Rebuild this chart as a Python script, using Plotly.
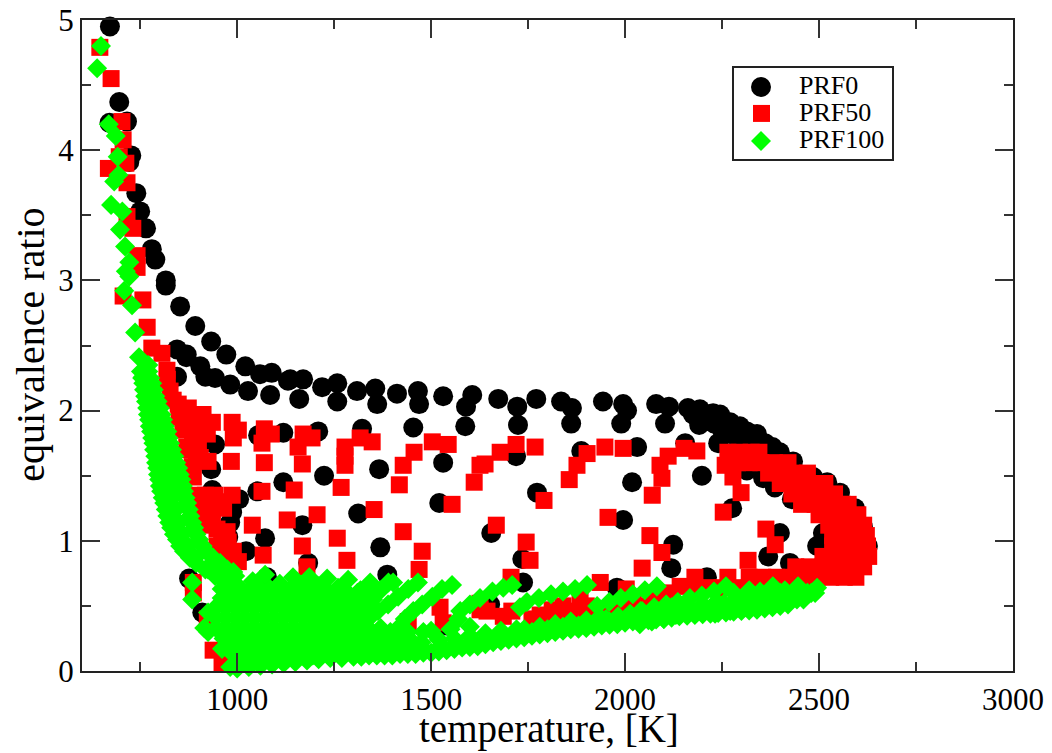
import plotly.graph_objects as go

x_ticks = [1000, 1500, 2000, 2500, 3000]
y_ticks = [0, 1, 2, 3, 4, 5]
legend_names = ["PRF0", "PRF50", "PRF100"]

prf0_points = [
 (672,4.95),(696,4.37),(671,4.21),(716,4.22),(727,3.96),(722,3.91),(740,3.67),(750,3.53),(765,3.40),(780,3.24),
 (789,3.16),(816,3.00),(816,2.96),(853,2.80),(892,2.65),(933,2.53),(972,2.43),(1021,2.34),(1059,2.28),(1089,2.29),
 (1137,2.24),(845,2.47),(870,2.43),(869,2.41),(905,2.34),(845,2.26),(918,2.26),(943,2.25),(982,2.20),(1028,2.15),
 (1085,2.12),(1131,2.23),(1170,2.24),(1160,2.09),(1219,2.18),(1258,2.21),(1258,2.07),(1309,2.15),(1356,2.17),(1361,2.05),
 (1412,2.13),(1466,2.15),(1469,2.05),(1531,2.11),(1606,2.12),(1590,2.03),(1588,1.88),(1454,1.87),(1322,1.86),(1209,1.84),
 (1119,1.83),(1054,1.81),(943,1.74),(1531,1.60),(1366,1.55),(1224,1.50),(1119,1.45),(1052,1.38),(1005,1.32),(1521,1.29),
 (1312,1.21),(1168,1.12),(1072,1.02),(987,1.22),(982,1.14),(977,1.03),(933,1.55),(936,1.39),(1369,0.95),(1023,0.92),
 (1183,0.83),(1000,0.88),(1387,0.74),(876,0.71),(1077,0.72),(910,0.45),(1673,2.09),(1722,2.03),(1771,2.09),(1835,2.07),
 (1863,2.02),(1943,2.07),(1995,2.05),(2005,2.00),(2080,2.05),(2113,2.03),(2162,2.02),(2193,2.01),(2227,1.98),(2245,1.97),
 (2271,1.91),(2296,1.88),(2314,1.84),(2361,1.75),(2399,1.68),(2433,1.61),(2485,1.49),(2521,1.45),(2554,1.37),(2593,1.25),
 (2613,1.11),(2626,0.96),(1724,1.89),(1861,1.90),(1990,1.90),(2103,1.90),(2191,1.89),(2240,1.75),(2210,1.92),(2250,1.85),
 (2290,1.80),(2330,1.72),(2175,1.97),(2215,1.97),(2255,1.92),(2290,1.84),(2325,1.78),(2340,1.82),(2380,1.72),(2230,1.90),
 (2270,1.82),(2300,1.74),(1719,1.65),(1887,1.69),(2031,1.72),(2155,1.75),(1773,1.37),(2018,1.45),(2198,1.50),(2314,1.54),
 (1655,1.06),(1995,1.16),(2276,1.25),(2430,1.32),(1735,0.86),(2124,0.97),(2399,1.06),(2495,0.96),(1737,0.68),(2119,0.79),
 (2369,0.88),(2425,0.83),(2211,0.72),(1979,0.64),(1652,0.51),(2356,1.48),(2386,1.41),(2510,1.06),(1300,0.33),(1540,0.35),
]

prf50_points = [
 (646,4.79),(675,4.55),(703,4.22),(706,4.08),(696,3.95),(713,3.90),(668,3.86),(716,3.75),(716,3.49),(731,3.40),
 (742,3.19),(742,3.10),(706,2.88),(757,2.85),(768,2.64),(780,2.48),(806,2.44),(819,2.31),(820,2.24),(827,2.15),
 (848,2.05),(874,2.02),(912,1.97),(936,1.91),(923,1.82),(987,1.91),(1003,1.85),(990,1.79),(1070,1.86),(1088,1.82),
 (1064,1.75),(1170,1.82),(1193,1.79),(1157,1.72),(1317,1.79),(1348,1.76),(1278,1.72),(1278,1.65),(1278,1.58),(1503,1.76),
 (1544,1.74),(1456,1.68),(1428,1.58),(1418,1.43),(1611,1.45),(1639,1.59),(1168,1.59),(1070,1.60),(985,1.61),(879,1.70),
 (905,1.64),(925,1.61),(884,1.57),(887,1.49),(860,1.85),(885,1.80),(900,1.75),(850,1.95),(835,2.08),(860,1.98),
 (895,1.90),(870,1.90),(910,1.85),(870,1.72),(895,1.68),(1064,1.38),(1147,1.39),(1268,1.41),(1554,1.28),(1353,1.24),
 (897,1.35),(918,1.35),(943,1.35),(987,1.35),(900,1.29),(936,1.24),(936,1.18),(950,1.30),(965,1.25),(915,1.22),(925,1.12),
 (948,1.09),(974,1.07),(948,0.96),(977,0.99),(1003,0.84),(960,0.90),(990,0.92),(960,1.02),(985,0.85),(1039,1.12),
 (1129,1.16),(1206,1.20),(1428,1.07),(1258,1.02),(1168,0.96),(1067,0.89),(1477,0.92),(1283,0.85),(1469,0.78),(1180,0.80),
 (1668,1.12),(1745,0.99),(1755,0.85),(1706,0.72),(1626,1.58),(1678,1.68),(1719,1.74),(1768,1.72),(1856,1.47),(1876,1.58),
 (1902,1.67),(1948,1.72),(1995,1.71),(1791,1.31),(1956,1.18),(2070,1.35),(2095,1.48),(2090,1.58),(2111,1.65),(2152,1.71),
 (2185,1.69),(2064,1.04),(2095,0.91),(2044,0.79),(2180,0.72),(1936,0.68),(2003,0.63),(2258,1.58),(2278,1.49),(2299,1.37),
 (2253,1.22),(2363,1.09),(2387,0.97),(2317,0.85),(2265,0.72),
 (2265,1.68),(2295,1.68),(2325,1.68),(2345,1.68),(2290,1.60),(2320,1.60),(2350,1.60),(2385,1.60),(2420,1.60),
 (2370,1.52),(2400,1.52),(2435,1.52),(2470,1.52),(2400,1.44),(2430,1.44),(2465,1.44),(2500,1.44),(2515,1.44),
 (2430,1.36),(2465,1.36),(2500,1.36),(2540,1.36),(2455,1.28),(2490,1.28),(2525,1.28),(2560,1.28),(2575,1.28),
 (2500,1.20),(2530,1.20),(2565,1.20),(2600,1.20),(2525,1.12),(2560,1.12),(2595,1.12),(2615,1.12),
 (2535,1.04),(2570,1.04),(2600,1.04),(2622,1.04),(2535,0.96),(2570,0.96),(2600,0.96),(2625,0.96),
 (2510,0.88),(2545,0.88),(2580,0.88),(2610,0.88),(2628,0.88),(2440,0.80),(2475,0.80),(2510,0.80),(2545,0.80),(2580,0.80),(2615,0.80),
 (2320,0.72),(2355,0.72),(2390,0.72),(2425,0.72),(2460,0.72),(2495,0.72),(2530,0.72),(2565,0.72),(2595,0.72),
 (2142,0.65),(2108,0.60),(2180,0.64),(2215,0.64),(2250,0.64),(2285,0.64),(2320,0.64),(2355,0.64),
 (2072,0.55),(2021,0.52),(1987,0.47),(1950,0.44),(2050,0.50),(1781,0.43),(1812,0.47),(1840,0.50),(1884,0.55),(1686,0.42),
 (1820,0.43),(1860,0.46),(1900,0.50),(1760,0.40),(1880,0.45),(1920,0.45),
 (1644,0.46),(1626,0.52),(1708,0.46),(887,0.68),(887,0.60),(923,0.40),(938,0.16),(961,0.06),(969,-0.01),(1523,0.49),
 (1626,0.47),(1441,0.38),(1531,0.37),
]

prf100_points = [
 (649,4.80),(639,4.63),(669,4.20),(687,4.11),(692,3.95),(694,3.81),(683,3.76),(675,3.58),(704,3.53),(698,3.39),
 (711,3.26),(722,3.14),(713,3.07),(722,3.03),(709,2.92),(729,2.81),(737,2.60),(747,2.41),(771,2.35),(758,2.26),
 (752,2.30),(758,2.21),(763,2.11),(768,2.02),(773,1.93),(778,1.84),(784,1.75),(789,1.65),(794,1.56),(799,1.47),
 (804,1.38),(812,1.29),(820,1.19),(830,1.10),(845,1.01),(863,0.92),(894,0.83),(943,0.73),
 (771,2.30),(781,2.21),(789,2.11),(801,2.02),(809,1.93),(820,1.84),(827,1.75),(838,1.65),(848,1.56),(856,1.47),
 (863,1.38),(871,1.29),(879,1.19),(889,1.10),(902,1.01),(920,0.92),(956,0.83),(995,0.73),
 (762,2.25),(770,2.16),(776,2.07),(785,1.97),(791,1.88),(799,1.79),(806,1.70),(813,1.60),(821,1.51),(828,1.42),
 (834,1.33),(842,1.24),(850,1.14),(860,1.05),(873,0.96),(892,0.87),(925,0.78),(969,0.68),
 (755,2.25),(760,2.16),(765,2.07),(770,1.97),(775,1.88),(781,1.79),(786,1.70),(791,1.60),(796,1.51),(801,1.42),
 (808,1.33),(816,1.24),(825,1.14),(837,1.05),(853,0.96),(878,0.87),(918,0.78),
 (776,2.25),(785,2.16),(795,2.07),(805,1.97),(814,1.88),(823,1.79),(832,1.70),(843,1.60),(852,1.51),(860,1.42),
 (867,1.33),(875,1.24),(884,1.14),(895,1.05),(911,0.96),(938,0.87),(975,0.78),
 (884,0.55),(884,0.68),(925,0.30),(961,0.17),(982,0.03),(925,0.45),(915,0.33),
 (990,0.76),(1072,0.74),(1144,0.72),(1186,0.72),(1232,0.71),(1286,0.70),(1343,0.68),(1402,0.68),
 (1040,0.69),(1110,0.67),(1165,0.66),(1210,0.65),(1260,0.64),
 (960,0.63),(1010,0.63),(1060,0.63),(1110,0.62),(1160,0.62),(1210,0.61),(1260,0.60),(1310,0.60),
 (985,0.63),(1035,0.63),(1085,0.63),(1135,0.62),(1185,0.62),(1235,0.61),(1285,0.60),
 (985,0.56),(1035,0.56),(1085,0.56),(1135,0.55),(1185,0.55),(1235,0.54),(1285,0.54),
 (960,0.56),(1010,0.56),(1060,0.56),(1110,0.56),(1160,0.55),(1210,0.55),(1260,0.54),(1310,0.54),
 (945,0.49),(995,0.49),(1045,0.49),(1095,0.49),(1145,0.48),(1195,0.48),(1245,0.47),(1295,0.47),
 (970,0.49),(1020,0.49),(1070,0.49),(1120,0.49),(1170,0.48),(1220,0.48),(1270,0.47),
 (970,0.41),(1020,0.41),(1070,0.41),(1120,0.41),(1170,0.41),(1220,0.40),(1270,0.40),
 (945,0.41),(995,0.41),(1045,0.41),(1095,0.41),(1145,0.41),(1195,0.41),(1245,0.40),(1295,0.40),
 (945,0.33),(995,0.33),(1045,0.33),(1095,0.33),(1145,0.33),(1195,0.33),(1245,0.33),(1295,0.32),(1345,0.31),
 (970,0.33),(1020,0.33),(1070,0.33),(1120,0.33),(1170,0.33),(1220,0.33),(1270,0.33),(1320,0.32),
 (965,0.25),(1015,0.25),(1065,0.25),(1115,0.25),(1165,0.25),(1215,0.25),(1265,0.25),(1315,0.25),(1365,0.25),(1415,0.26),
 (990,0.25),(1040,0.25),(1090,0.25),(1140,0.25),(1190,0.25),(1240,0.25),(1290,0.25),(1340,0.25),(1390,0.25),(1440,0.26),
 (975,0.17),(1025,0.17),(1075,0.17),(1125,0.17),(1175,0.17),(1225,0.17),(1275,0.18),(1325,0.18),(1375,0.18),(1425,0.19),(1475,0.22),
 (1000,0.17),(1050,0.17),(1100,0.17),(1150,0.17),(1200,0.17),(1250,0.17),(1300,0.18),(1350,0.18),(1400,0.18),(1450,0.20),
 (1000,0.10),(1045,0.11),(1095,0.11),(1145,0.12),(1195,0.12),(1245,0.13),(1295,0.14),(1345,0.14),(1395,0.15),(1445,0.16),
 (1020,0.10),(1070,0.11),(1120,0.12),(1170,0.12),(1220,0.13),(1270,0.13),(1320,0.14),(1370,0.15),(1420,0.16),
 (1000,0.02),(1030,0.03),(1060,0.04),(1090,0.05),(1120,0.06),(1150,0.07),(1180,0.08),(1210,0.09),(1240,0.10),(1270,0.10),(1300,0.11),
 (1340,0.12),(1380,0.12),(1420,0.13),(1460,0.13),(1500,0.14),(1540,0.16),(1580,0.18),(1620,0.19),(1660,0.22),(1700,0.24),(1740,0.26),
 (1780,0.28),(1820,0.30),(1860,0.32),(1900,0.33),(1940,0.35),(1980,0.36),(2020,0.38),(2060,0.39),(2100,0.40),(2140,0.42),(2180,0.43),
 (2220,0.44),(2260,0.45),(2300,0.46),(2340,0.47),(2380,0.49),(2420,0.51),(2443,0.55),
 (1320,0.11),(1360,0.12),(1400,0.12),(1440,0.13),(1480,0.14),(1520,0.15),(1560,0.17),(1600,0.185),(1640,0.205),(1680,0.23),(1720,0.25),
 (1760,0.27),(1800,0.29),(1840,0.31),(1880,0.325),(1920,0.34),(1960,0.355),(2000,0.37),(2040,0.385),(2080,0.395),(2120,0.41),(2160,0.425),
 (2200,0.435),(2240,0.445),(2280,0.455),(2320,0.465),(2360,0.48),(2400,0.50),
 (1480,0.17),(1520,0.18),(1560,0.20),(1600,0.21),(1640,0.24),(1680,0.26),(1720,0.28),(1760,0.30),(1800,0.32),(1840,0.34),(1880,0.35),
 (1920,0.37),(1960,0.38),(2000,0.40),(2040,0.41),(2080,0.43),(2120,0.44),(2160,0.45),(2200,0.46),(2240,0.47),(2280,0.48),(2320,0.49),(2360,0.51),(2400,0.52),
 (1520,0.24),(1560,0.25),(1600,0.27),(1640,0.29),(1680,0.31),(1720,0.32),(1740,0.32),(1780,0.34),(1820,0.36),(1860,0.38),(1900,0.39),(1940,0.40),
 (1500,0.31),(1550,0.32),(1600,0.34),(1395,0.30),(1440,0.30),(1480,0.30),(1370,0.33),(1415,0.33),
 (2040,0.46),(2080,0.47),(2120,0.49),(2160,0.50),(2200,0.51),(2240,0.52),(2280,0.53),(2320,0.54),(2360,0.55),(2400,0.56),
 (2280,0.60),(2320,0.62),(2360,0.58),(2400,0.60),(2440,0.60),(2480,0.60),(2300,0.50),(2340,0.52),(2380,0.57),(2470,0.60),
 (2460,0.55),(2490,0.60),
 (1466,0.68),(1441,0.63),(1415,0.57),(1389,0.51),(1363,0.46),(1338,0.40),
 (1390,0.68),(1370,0.62),(1350,0.55),(1330,0.48),(1310,0.41),(1330,0.60),(1310,0.52),(1290,0.45),
 (1318,0.62),
 (1554,0.66),(1528,0.63),(1503,0.57),(1477,0.51),(1454,0.46),(1432,0.40),
 (1709,0.66),(1686,0.64),(1658,0.61),(1626,0.56),(1600,0.51),(1575,0.46),(1570,0.40),
 (1902,0.66),(1871,0.63),(1840,0.61),(1809,0.59),(1778,0.56),(1747,0.53),(1729,0.49),
 (2082,0.65),(2051,0.62),(2020,0.59),(1989,0.56),(1959,0.53),(1928,0.50),
 (2260,0.65),(2229,0.61),(2198,0.58),(2167,0.56),(2136,0.53),(2106,0.51),(2075,0.49),(2044,0.46),(2013,0.44),(1982,0.42),(1951,0.40),(1920,0.37),
 (2381,0.65),(2446,0.65),(2495,0.64),(2412,0.62),(2348,0.61),(2317,0.58),(2286,0.55),(2255,0.52),(2224,0.50),(2193,0.47),(2162,0.45),
 (2131,0.43),(2100,0.40),(2069,0.38),(2038,0.36),(2464,0.59),(2425,0.55),(2386,0.53),(2348,0.50),(2309,0.49),(2271,0.46),(2232,0.44),
]

FONT = "Liberation Serif"
L, T, R, B = 82, 20, 1013, 671.5

def px(x):
    return (x - L) / (R - L)

def py(y):
    return 1 - (y - T) / (B - T)

fig = go.Figure()
series = [
    ("circle", 20, "#000000", prf0_points),
    ("square", 17, "#ff0000", prf50_points),
    ("diamond", 15.4, "#00ff00", prf100_points),
]
for name, (sym, size, col, pts) in zip(legend_names, series):
    fig.add_trace(go.Scatter(
        x=[p[0] for p in pts], y=[p[1] for p in pts], mode="markers", name=name,
        cliponaxis=False, showlegend=False,
        marker=dict(symbol=sym, size=size, color=col, line=dict(width=0)),
    ))

# Legend frame and keys
shapes = [
    dict(type="rect", xref="paper", yref="paper", x0=px(733), x1=px(893), y0=py(67), y1=py(160),
         line=dict(color="#222222", width=2), fillcolor="white", layer="above"),
    dict(type="circle", xref="paper", yref="paper", x0=px(751), x1=px(771), y0=py(77), y1=py(97),
         line=dict(width=0), fillcolor="#000000", layer="above"),
    dict(type="rect", xref="paper", yref="paper", x0=px(753), x1=px(770), y0=py(105), y1=py(122),
         line=dict(width=0), fillcolor="#ff0000", layer="above"),
    dict(type="path", xref="paper", yref="paper",
         path=f"M {px(751)} {py(141)} L {px(761)} {py(131)} L {px(771)} {py(141)} L {px(761)} {py(151)} Z",
         line=dict(width=0), fillcolor="#00ff00", layer="above"),
]
annotations = [
    dict(text=n, xref="paper", yref="paper", x=px(797), y=py(yy), xanchor="left", yanchor="middle",
         showarrow=False, font=dict(family=FONT, size=26, color="black"))
    for n, yy in zip(legend_names, [86, 113, 140])
]
annotations += [
    dict(text="temperature, [K]", xref="paper", yref="paper", x=px(549), y=py(730), xanchor="center", yanchor="middle",
         showarrow=False, font=dict(family=FONT, size=39, color="black")),
    dict(text="equivalence ratio", xref="paper", yref="paper", x=px(31), y=py(345), xanchor="center", yanchor="middle",
         showarrow=False, textangle=-90, font=dict(family=FONT, size=40, color="black")),
]

fig.update_layout(
    width=1052, height=753, paper_bgcolor="white", plot_bgcolor="white",
    margin=dict(l=L, r=1052 - R, t=T, b=753 - B, pad=0, autoexpand=False),
    font=dict(family=FONT, color="black"), showlegend=False,
    shapes=shapes, annotations=annotations,
)
axis = dict(showgrid=False, zeroline=False, showline=True, linecolor="#222222", linewidth=2,
            mirror="allticks", ticks="inside", ticklen=18, tickwidth=2, tickcolor="#333333",
            tickfont=dict(family=FONT, size=31))
fig.update_xaxes(range=[600, 3000], tickmode="array", tickvals=x_ticks, ticktext=[str(v) for v in x_ticks],
                 minor=dict(tickmode="array", tickvals=[750, 1250, 1750, 2250, 2750], ticks="inside", ticklen=9, tickwidth=2, tickcolor="#333333"),
                 **axis)
fig.update_yaxes(range=[0, 5], tickmode="array", tickvals=y_ticks, ticktext=[str(v) for v in y_ticks],
                 minor=dict(tickmode="array", tickvals=[0.5, 1.5, 2.5, 3.5, 4.5], ticks="inside", ticklen=9, tickwidth=2, tickcolor="#333333"),
                 **axis)
fig.write_html("out.html", config={"displayModeBar": False}, post_script="document.body.style.margin='0';")
